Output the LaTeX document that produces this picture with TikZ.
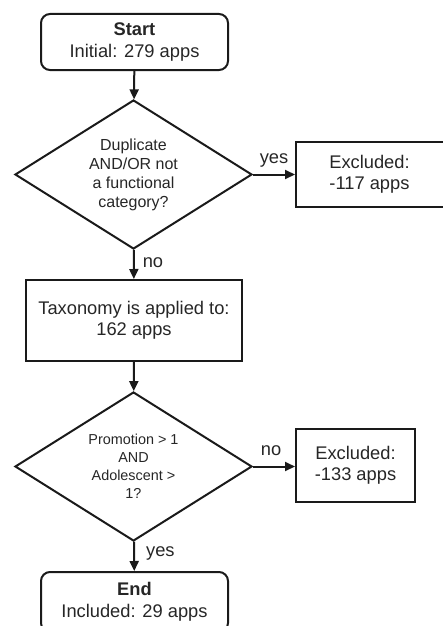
\documentclass[tikz,border=0pt]{standalone}
\usepackage{fontspec}
\setmainfont{Liberation Sans}
\usetikzlibrary{shapes.geometric,arrows.meta}
\definecolor{ink}{HTML}{1A1A1A}
\definecolor{txt}{HTML}{262626}
\tikzset{
  base/.style={draw=ink, line width=2pt, text=txt, inner sep=0pt, align=center},
  terminal/.style={base, rounded corners=9pt, font=\fontsize{18.3}{21.5}\selectfont},
  procbox/.style={base, font=\fontsize{18.3}{21.5}\selectfont},
  decision/.style={base, diamond, aspect=1.59},
  flow/.style={draw=ink, line width=2pt, -{Triangle[length=10pt,width=9pt]}},
  lbl/.style={text=txt, font=\fontsize{18.3}{21.5}\selectfont, inner sep=0pt}
}
\begin{document}
\begin{tikzpicture}[x=1pt, y=-1pt]
\useasboundingbox (0,0) rectangle (443,626);

% start / end terminals
\node[terminal, minimum width=187pt, minimum height=56pt] (start) at (134.5,42)
  {\textbf{Start}\\Initial: 279 apps};
\node[terminal, minimum width=187pt, minimum height=60pt] (end) at (134.5,602)
  {\textbf{End}\\Included: 29 apps};

% decisions
\node[decision, minimum width=237pt, minimum height=149pt,
      font=\fontsize{16}{19}\selectfont] (d1) at (133.5,174.5)
  {Duplicate\\AND/OR not\\a functional\\category?};
\node[decision, minimum width=237pt, minimum height=149pt,
      font=\fontsize{14.4}{18}\selectfont] (d2) at (133.5,466.5)
  {Promotion > 1\\AND\\Adolescent >\\1?};

% process boxes
\node[procbox, minimum width=216pt, minimum height=81pt] (tax) at (134,320.5)
  {Taxonomy is applied to:\\162 apps};
\node[procbox, minimum width=152pt, minimum height=65pt] (ex1) at (372,174.5)
  {\hspace*{-5pt}Excluded:\\\hspace*{-5pt}-117 apps};
\node[procbox, minimum width=119pt, minimum height=73pt] (ex2) at (355.5,465.5)
  {Excluded:\\-133 apps};

% connectors
\draw[flow] (start) -- (d1);
\draw[flow] (d1) -- (tax) node[lbl, pos=0.45, right=8pt] {no};
\draw[flow] (d1.east) -- (ex1.west |- d1.east) node[lbl, midway, above=6pt] {yes};
\draw[flow] (tax) -- (d2);
\draw[flow] (d2.east) -- (ex2.west |- d2.east) node[lbl, midway, above=10pt, xshift=-3pt] {no};
\draw[flow] (d2) -- (end) node[lbl, pos=0.4, right=11pt] {yes};
\end{tikzpicture}
\end{document}
